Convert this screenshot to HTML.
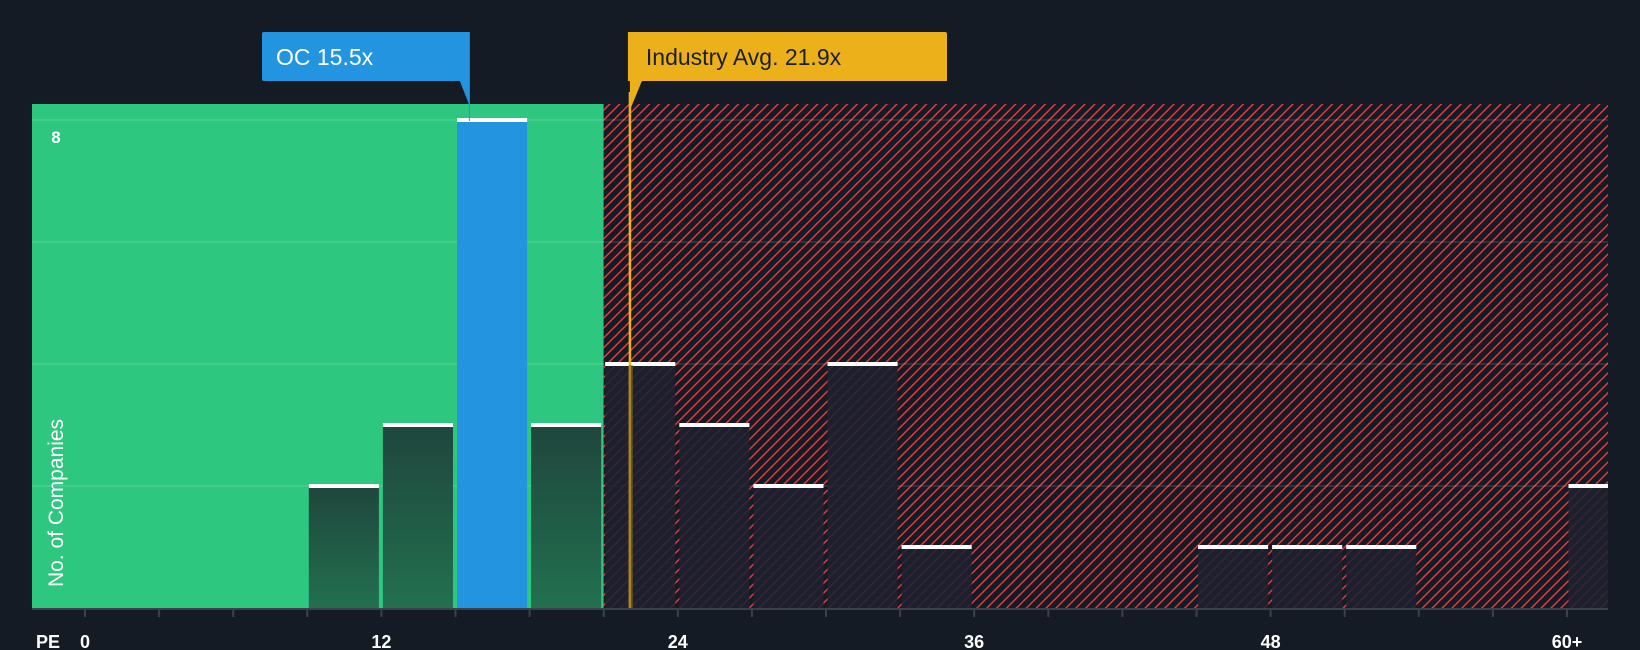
<!DOCTYPE html>
<html><head><meta charset="utf-8"><style>
html,body{margin:0;padding:0;background:#151b24;}
svg{display:block;font-family:"Liberation Sans",sans-serif;}
</style></head><body>
<svg id="chart" width="1640" height="650" viewBox="0 0 1640 650" xmlns="http://www.w3.org/2000/svg">
<defs>
<pattern id="hatch" width="7" height="7" patternUnits="userSpaceOnUse" patternTransform="rotate(45)">
<rect width="7" height="7" fill="#151b24"/>
<line x1="0" y1="0" x2="0" y2="7" stroke="#e0393e" stroke-width="3"/>
</pattern>
<linearGradient id="gbar" x1="0" y1="0" x2="0" y2="1">
<stop offset="0" stop-color="#1f463d"/><stop offset="1" stop-color="#22704f"/>
</linearGradient>
</defs>
<g id="plot"></g>
</svg>
<script>
const binStarts = [9,12,15,18,21,24,27,30,33,45,48,51,60];
const counts = [2,3,8,3,4,3,2,4,1,1,1,1,2];
const binWidth = 3;
const companyPE = 15.5;
const industryAvg = 21.9;
const xTickVals = [0,12,24,36,48,60];
const xTickLabels = ["0","12","24","36","48","60+"];
const yGridVals = [2,4,6,8];

const L=32,R=1608,T=104,B=608;
const x=v=>85+v*24.7;
const y=v=>B-v*61;
const NS="http://www.w3.org/2000/svg";
const g=document.getElementById('plot');
function mk(t,a){const e=document.createElementNS(NS,t);for(const k in a)e.setAttribute(k,a[k]);g.appendChild(e);return e;}
const greenEnd=x(21);
let e;
e=mk('rect',{x:L,y:T,width:greenEnd-L,height:B-T,fill:'#2ec780'});


e=mk('rect',{x:greenEnd,y:T,width:R-greenEnd,height:B-T,fill:'url(#hatch)'});


yGridVals.forEach(v=>{
  e=mk('line',{x1:L,x2:R,y1:y(v),y2:y(v),stroke:'rgba(255,255,255,0.1)','stroke-width':2});
  
  
});
binStarts.forEach((s,i)=>{
  const x0=x(s)+1.5, x1=Math.min(x(s+binWidth)-2.5,R);
  const isOC = companyPE>=s && companyPE<s+binWidth;
  const fill = isOC ? '#2394e0' : (s<21 ? 'url(#gbar)' : 'rgba(30,33,48,0.88)');
  e=mk('rect',{x:x0,y:y(counts[i]),width:x1-x0,height:B-y(counts[i]),fill:fill});
  
  
  e=mk('rect',{x:x0,y:y(counts[i])-2,width:x1-x0,height:4,fill:'#ffffff'});
  
  
});
e=mk('line',{x1:L,x2:R,y1:B+1,y2:B+1,stroke:'#3a414c','stroke-width':2});


for(let v=0;v<=60;v+=3){
  e=mk('line',{x1:x(v),x2:x(v),y1:B,y2:B+9,stroke:'#3a414c','stroke-width':2});
  
  
}
xTickVals.forEach((v,i)=>{
  e=mk('text',{x:x(v),y:648,fill:'#fff','font-size':18,'font-weight':'bold','text-anchor':'middle'});
  e.textContent=xTickLabels[i];
  
  
});
e=mk('text',{x:36,y:648,fill:'#fff','font-size':18,'font-weight':'bold'});e.textContent='PE';


e=mk('text',{x:56,y:143,fill:'#fff','font-size':17,'font-weight':'bold','text-anchor':'middle'});e.textContent='8';


e=mk('text',{x:0,y:0,fill:'#fff','font-size':21,'text-anchor':'middle',transform:'translate(63,503) rotate(-90)'});e.textContent='No. of Companies';


const ax=x(industryAvg)+4;
e=mk('line',{x1:ax,x2:ax,y1:92,y2:B,stroke:'#f0b31a','stroke-width':2.5});


e=mk('rect',{x:ax-1,y:365,width:4,height:B-365,fill:'rgba(120,100,40,0.6)'});


e=mk('path',{d:`M${ax-2} 32 H945 a2 2 0 0 1 2 2 V81 H${ax+12} L${ax} 110 V81 H${ax-2} Z`,fill:'#ecb11a'});


e=mk('text',{x:ax+16,y:65,fill:'#1b1f27','font-size':23});e.textContent='Industry Avg. '+industryAvg+'x';


const ox=x(companyPE)+2;
e=mk('path',{d:`M264 32 H${ox} V121 H${ox-1} V104 L${ox-10} 81 H264 a2 2 0 0 1 -2 -2 V34 a2 2 0 0 1 2 -2 Z`,fill:'#2394e0'});


e=mk('text',{x:276,y:65,fill:'#fff','font-size':23});e.textContent='OC '+companyPE+'x';


</script>
</body></html>
